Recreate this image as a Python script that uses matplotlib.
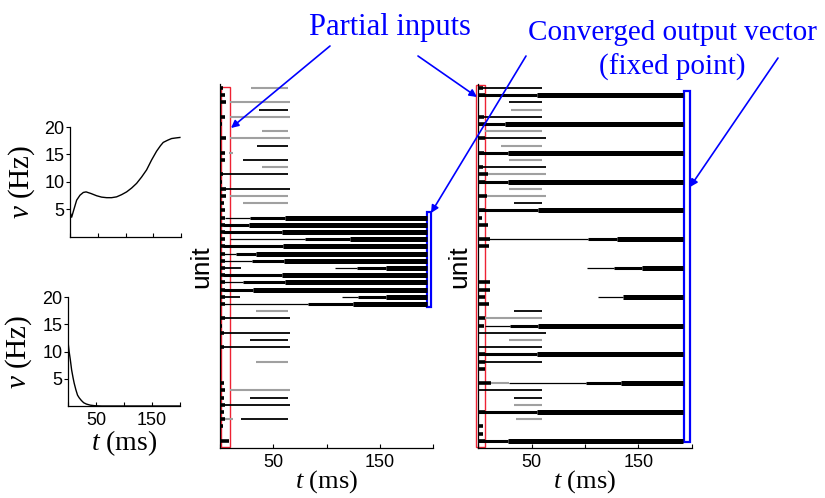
import matplotlib.pyplot as plt
from matplotlib.patches import Rectangle

plt.rcParams['font.family'] = ['Liberation Sans', 'DejaVu Sans']
plt.rcParams['mathtext.fontset'] = 'custom'
plt.rcParams['mathtext.it'] = 'Liberation Serif:italic'
plt.rcParams['mathtext.rm'] = 'Liberation Serif'
SERIF = 'Liberation Serif'

# firing-rate traces (t in ms, v in Hz)
rise_t = [0, 3, 7, 12, 18, 24, 29, 38, 48, 57, 66, 75, 84, 93, 102, 111, 120, 129, 138, 147, 156, 163, 168, 176, 183, 190, 198]
rise_v = [4.6, 3.6, 5.0, 6.7, 7.6, 8.1, 8.2, 7.9, 7.5, 7.25, 7.15, 7.15, 7.3, 7.7, 8.2, 8.9, 9.75, 10.9, 12.2, 14.0, 15.6, 16.6, 17.2, 17.6, 17.9, 18.0, 18.1]
decay_t = [0, 2, 4, 6.5, 9, 11, 14, 17, 20, 24, 28, 33, 40, 48, 60, 100, 150, 200]
decay_v = [11.8, 10.0, 8.6, 6.6, 5.2, 4.2, 3.0, 2.0, 1.5, 1.0, 0.6, 0.35, 0.15, 0.05, 0.0, 0.0, 0.0, 0.0]

# raster, partial input -> converged pattern
# onset bursts: (unit, end time)
mid_onset = [(0, 3), (1, 5), (2, 6), (4, 5), (5, 2), (7, 6), (9, 5), (10, 5), (12, 3), (13, 2),
             (14, 6), (15, 6), (16, 4), (17, 5), (18, 5), (19, 5), (20, 5), (21, 5), (22, 5),
             (23, 5), (24, 5), (25, 5), (26, 5), (27, 5), (28, 5), (29, 5), (30, 5), (32, 5),
             (33, 2), (34, 4), (36, 4), (41, 4), (42, 5), (43, 4), (44, 5), (45, 4), (46, 5),
             (47, 3), (49, 8)]
# short runs: (unit, start, end)
mid_black = [(3, 37, 64), (8, 35, 64), (10, 22, 64), (12, 3, 64), (14, 6, 66), (25, 0, 20),
             (29, 0, 19), (32, 3, 66), (34, 3, 66), (35, 28, 64), (36, 3, 66), (43, 28, 64),
             (44, 3, 66), (46, 20, 64)]
mid_gray = [(0, 29, 64), (2, 9, 66), (4, 9, 66), (6, 39, 64), (7, 9, 66), (9, 8, 12), (11, 39, 64),
            (15, 9, 64), (16, 22, 64), (31, 34, 64), (38, 34, 64), (42, 9, 66), (46, 4, 12)]
# persistent units: (unit, thin from, medium from, thick from)
mid_long = [(18, 5, 28, 61), (19, 3, 3, 27), (20, 3, 3, 58), (21, 9, 80, 122), (22, 3, 3, 59),
            (23, 3, 15, 34), (24, 3, 30, 60), (25, 108, 129, 156), (26, 3, 3, 58), (27, 3, 22, 61),
            (28, 3, 3, 31), (29, 115, 130, 156), (30, 3, 83, 125)]

right_onset = [(0, 4), (1, 6), (4, 5), (5, 6), (7, 6), (9, 5), (11, 4), (12, 9), (13, 6), (15, 8),
               (17, 6), (18, 3), (19, 9), (21, 11), (22, 10), (27, 11), (28, 11), (29, 6), (30, 10),
               (32, 6), (33, 5), (37, 6), (38, 6), (39, 6), (41, 12), (45, 6), (47, 4), (48, 4),
               (49, 6)]
right_black = [(0, 0, 60), (2, 29, 60), (4, 0, 60), (7, 0, 63), (11, 0, 63), (16, 33, 60),
               (31, 33, 60), (34, 0, 63), (36, 0, 60), (38, 0, 60), (42, 0, 60), (43, 33, 60)]
right_gray = [(3, 31, 60), (6, 6, 60), (8, 21, 60), (10, 29, 60), (12, 0, 63), (14, 29, 60),
              (15, 0, 63), (32, 6, 60), (35, 29, 60), (41, 11, 29), (44, 33, 60), (46, 35, 60)]
right_long = [(1, 0, 0, 55), (5, 0, 0, 25), (9, 0, 0, 28), (13, 0, 0, 28), (17, 0, 0, 56),
              (21, 0, 103, 130), (25, 102, 127, 153), (29, 112, 136, 136), (33, 6, 30, 56),
              (37, 0, 0, 55), (41, 29, 101, 134), (45, 0, 0, 55), (49, 0, 0, 28)]

N_UNITS = 50
W, H = 825, 498


def px_axes(fig, left, top, right, bottom):
    return fig.add_axes([left / W, 1 - bottom / H, (right - left) / W, (bottom - top) / H])


def style_axes(ax):
    for s in ('top', 'right'):
        ax.spines[s].set_visible(False)
    for s in ('left', 'bottom'):
        ax.spines[s].set_linewidth(0.9)


def rate_panel(ax, t, v, show_x):
    style_axes(ax)
    ax.plot(t, v, color='black', lw=1.0)
    ax.set_xlim(0, 200)
    ax.set_ylim(0, 20)
    ax.set_yticks([5, 10, 15, 20])
    ax.set_xticks([0, 50, 100, 150, 200])
    ax.set_xticklabels(['', '50', '', '150', ''] if show_x else [])
    ax.tick_params(axis='y', direction='out', length=3, labelsize=13, pad=1)
    ax.tick_params(axis='x', direction='in', length=3, labelsize=13, pad=4)
    ax.set_ylabel('$v$ (Hz)', fontfamily=SERIF, fontsize=21)
    ax.yaxis.set_label_coords(-0.30, 0.5)


def raster_panel(ax, onset, black, gray, long_units, t_end):
    style_axes(ax)
    ax.set_xlim(0, 200)
    ax.set_ylim(N_UNITS, -0.5)
    ax.set_yticks([])
    ax.set_xticks([0, 50, 100, 150, 200])
    ax.set_xticklabels(['', '50', '', '150', ''])
    ax.tick_params(axis='x', direction='in', length=3, labelsize=13, pad=4)
    for u, a, b in gray:
        ax.hlines(u, a, b, color='#a0a0a0', lw=1.5)
    for u, a, b in black:
        ax.hlines(u, a, b, color='black', lw=1.3)
    for u, b in onset:
        ax.hlines(u, 0, b, color='black', lw=2.6)
    for u, t_thin, t_med, t_thick in long_units:
        ax.hlines(u, t_thin, t_med, color='black', lw=0.9)
        ax.hlines(u, t_med, t_thick, color='black', lw=2.2)
        ax.hlines(u, t_thick, t_end, color='black', lw=3.6)
    ax.set_ylabel('unit', fontsize=19, labelpad=5)
    ax.set_xlabel('$t$ (ms)', fontfamily=SERIF, fontsize=19, labelpad=-2)


fig = plt.figure(figsize=(W / 100, H / 100), dpi=100)

ax_up = px_axes(fig, 70, 127, 181, 237)
rate_panel(ax_up, rise_t, rise_v, False)

ax_down = px_axes(fig, 68, 297, 180, 406)
rate_panel(ax_down, decay_t, decay_v, True)
ax_down.set_xlabel('$t$ (ms)', fontfamily=SERIF, fontsize=20, labelpad=0)

ax_mid = px_axes(fig, 220, 84.4, 433, 448)
raster_panel(ax_mid, mid_onset, mid_black, mid_gray, mid_long, 194)
ax_mid.add_patch(Rectangle((0.9, -0.2), 8.5, 50.0, fill=False, ec='#ee2233', lw=1.0, clip_on=False))
ax_mid.add_patch(Rectangle((194, 17.2), 4.5, 13.2, fill=False, ec='#0000ff', lw=1.6, clip_on=False))

ax_right = px_axes(fig, 478.3, 84.4, 691.7, 448)
raster_panel(ax_right, right_onset, right_black, right_gray, right_long, 192)
ax_right.add_patch(Rectangle((-2.2, -0.4), 8.5, 50.3, fill=False, ec='#ee2233', lw=1.0, clip_on=False))
ax_right.add_patch(Rectangle((192.5, 0.35), 5.5, 48.8, fill=False, ec='#0000ff', lw=1.6, clip_on=False))

# annotations
blue = '#0000ff'
fig.text(390 / W, 1 - 28 / H, 'Partial inputs', color=blue, fontfamily=SERIF, fontsize=22,
         ha='center', va='center')
fig.text(672 / W, 1 - 33 / H, 'Converged output vector', color=blue, fontfamily=SERIF,
         fontsize=21, ha='center', va='center')
fig.text(672 / W, 1 - 67 / H, '(fixed point)', color=blue, fontfamily=SERIF, fontsize=21,
         ha='center', va='center')

arrows = [((330, 46), (231, 128)), ((418, 56), (477, 97)),
          ((526, 56), (431, 213)), ((778, 58), (690, 187))]
for (x0, y0), (x1, y1) in arrows:
    fig.add_artist(plt.Annotation('', xy=(x1, H - y1), xytext=(x0, H - y0),
                                  xycoords='figure pixels', textcoords='figure pixels',
                                  arrowprops=dict(arrowstyle='-|>', color=blue, lw=1.2,
                                                  mutation_scale=11, shrinkA=0, shrinkB=0)))

fig.savefig('out.png', dpi=100)
